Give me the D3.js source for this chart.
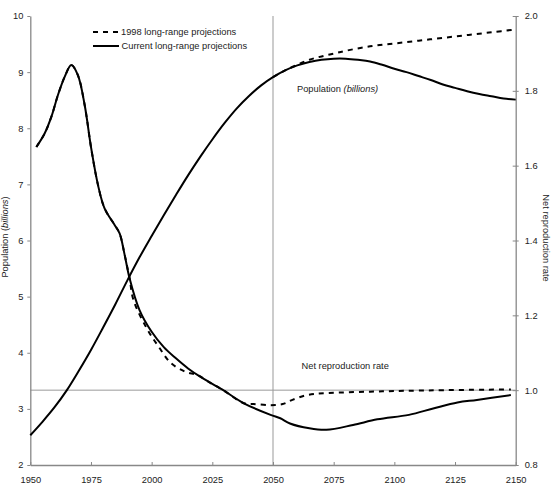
<!DOCTYPE html>
<html><head><meta charset="utf-8">
<script src="https://cdn.jsdelivr.net/npm/d3@7"></script>
<style>
body{margin:0;background:#fff;}
text{font-family:"Liberation Sans",Arial,sans-serif;fill:#222;}
</style></head>
<body><svg id="c" width="552" height="486"></svg>
<script>
// Population (billions), current projections
const popYears = [1950,1955,1960,1965,1970,1975,1980,1985,1990,1995,2000,2005,2010,2015,2020,2025,2030,2035,2040,2045,2050,2055,2060,2065,2070,2075,2080,2085,2090,2095,2100,2105,2110,2115,2120,2125,2130,2135,2140,2145,2150];
const popCurrent = [2.53,2.77,3.03,3.33,3.68,4.05,4.45,4.86,5.29,5.70,6.08,6.45,6.81,7.16,7.49,7.80,8.09,8.35,8.57,8.76,8.91,9.03,9.12,9.18,9.22,9.24,9.24,9.22,9.19,9.13,9.06,9.00,8.93,8.86,8.78,8.72,8.66,8.61,8.57,8.53,8.51];
// Population, 1998 projections (differs after ~2050)
const pop98Years = [2050,2055,2060,2065,2070,2075,2080,2090,2100,2110,2120,2130,2140,2150];
const pop98 = [8.91,9.03,9.13,9.22,9.28,9.33,9.38,9.46,9.51,9.56,9.61,9.66,9.71,9.76];
// Net reproduction rate, current
const nrrYears = [1952.5,1955.9,1958.7,1961.4,1964.2,1966.9,1969.6,1972.4,1975.1,1977.9,1980.6,1984.8,1986.8,1988.9,1990.9,1995,2000,2005,2010,2015,2020,2029,2038,2049,2053,2057,2065,2072,2083,2093,2106,2116,2126,2134,2148];
const nrrCurrent = [1.65,1.686,1.731,1.789,1.838,1.869,1.842,1.762,1.646,1.548,1.486,1.441,1.419,1.361,1.299,1.214,1.156,1.115,1.085,1.058,1.036,1.002,0.965,0.934,0.925,0.911,0.898,0.894,0.907,0.922,0.934,0.951,0.967,0.974,0.987];
// Net reproduction rate, 1998 projections
const nrr98Years = [1952.5,1955.9,1958.7,1961.4,1964.2,1966.9,1969.6,1972.4,1975.1,1977.9,1980.6,1984.8,1986.8,1988.9,1990.9,1992.5,1998,2003,2008,2014,2019,2024,2029,2038,2042,2049,2054,2058,2064,2072,2090,2110,2148];
const nrr98 = [1.65,1.686,1.731,1.789,1.838,1.869,1.842,1.762,1.646,1.548,1.486,1.441,1.419,1.361,1.299,1.241,1.165,1.115,1.072,1.049,1.04,1.02,1.002,0.965,0.963,0.96,0.963,0.974,0.987,0.992,0.996,0.999,1.002];

const xTicks = [1950,1975,2000,2025,2050,2075,2100,2125,2150];
const yLeftTicks = [2,3,4,5,6,7,8,9,10];
const yRightTicks = [0.8,1.0,1.2,1.4,1.6,1.8,2.0];

const L=30.3, R=515.7, T=16, B=465;
const svg = d3.select("#c");
const x = d3.scaleLinear().domain([1950,2150]).range([L,R]);
const yL = d3.scaleLinear().domain([2,10]).range([B,T]);
const yR = d3.scaleLinear().domain([0.8,2.0]).range([B,T]);
const axisCol = "#888";
const fs = "9.3px";

// reference lines
svg.append("line").attr("x1",x(2050)).attr("x2",x(2050)).attr("y1",T).attr("y2",B)
  .attr("stroke","#999").attr("stroke-width",1);
svg.append("line").attr("x1",L).attr("x2",R).attr("y1",yR(1.0)).attr("y2",yR(1.0))
  .attr("stroke","#999").attr("stroke-width",1);

// axes
function styleAxis(g){
  g.select(".domain").attr("stroke",axisCol).attr("stroke-width",1.3);
  g.selectAll(".tick line").attr("stroke",axisCol);
  g.selectAll("text").style("font-size",fs).attr("fill","#222");
}
const gx = svg.append("g").attr("transform",`translate(0,${B})`)
  .call(d3.axisBottom(x).tickValues(xTicks).tickFormat(d3.format("d")).tickSize(-3).tickSizeOuter(0).tickPadding(11.4));
styleAxis(gx);
const gl = svg.append("g").attr("transform",`translate(${L},0)`)
  .call(d3.axisLeft(yL).tickValues(yLeftTicks).tickFormat(d3.format("d")).tickSize(3).tickSizeOuter(0).tickPadding(4));
styleAxis(gl);
const gr = svg.append("g").attr("transform",`translate(${R},0)`)
  .call(d3.axisRight(yR).tickValues(yRightTicks).tickFormat(d3.format(".1f")).tickSize(3).tickSizeOuter(0).tickPadding(6));
styleAxis(gr);
gr.selectAll(".tick line").attr("x1",-3);

// lines
const curve = d3.curveCatmullRom.alpha(0.5);
function draw(years, vals, ys, dashed){
  const data = years.map((d,i)=>[d,vals[i]]);
  svg.append("path").datum(data)
    .attr("fill","none").attr("stroke","#000").attr("stroke-width",2)
    .attr("stroke-dasharray",dashed?"5,5":null)
    .attr("d",d3.line().x(d=>x(d[0])).y(d=>ys(d[1])).curve(curve));
}
draw(popYears,popCurrent,yL,false);
draw(nrrYears,nrrCurrent,yR,false);
draw(pop98Years,pop98,yL,true);
draw(nrr98Years,nrr98,yR,true);

// axis titles
const lt = svg.append("text").attr("transform","translate(8,237) rotate(-90)")
  .attr("text-anchor","middle").style("font-size",fs);
lt.append("tspan").text("Population (");
lt.append("tspan").style("font-style","italic").text("billions");
lt.append("tspan").text(")");
svg.append("text").attr("transform","translate(543,238) rotate(90)")
  .attr("text-anchor","middle").style("font-size",fs).text("Net reproduction rate");

// in-chart labels
const pl = svg.append("text").attr("x",297).attr("y",91.5).style("font-size",fs);
pl.append("tspan").text("Population ");
pl.append("tspan").style("font-style","italic").text("(billions)");
svg.append("text").attr("x",301.5).attr("y",369).style("font-size",fs).text("Net reproduction rate");

// legend
const legend = [
  {label:"1998 long-range projections", dashed:true, y:32},
  {label:"Current long-range projections", dashed:false, y:46}
];
legend.forEach(l=>{
  svg.append("line").attr("x1",93).attr("x2",119).attr("y1",l.y).attr("y2",l.y)
    .attr("stroke","#000").attr("stroke-width",2).attr("stroke-dasharray",l.dashed?"5,5":null);
  svg.append("text").attr("x",l.dashed?121:121.5).attr("y",l.y+3.3).style("font-size",fs).text(l.label);
});
</script></body></html>
